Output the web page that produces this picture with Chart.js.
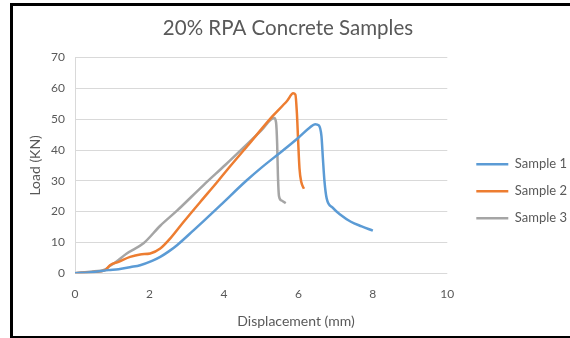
<!DOCTYPE html>
<html>
<head>
<meta charset="utf-8">
<script src="https://cdn.jsdelivr.net/npm/chart.js@4/dist/chart.umd.min.js"></script>
<style>
  body { margin: 0; background: #fff; }
  #wrap { position: relative; width: 570px; height: 338px; overflow: hidden; }
  #frame { position: absolute; left: 10px; top: 3px; width: 600px; height: 330px; border: 3px solid #000; pointer-events: none; }
</style>
</head>
<body>
<div id="wrap">
  <canvas id="myChart" width="570" height="338"></canvas>
  <div id="frame"></div>
</div>
<script>
// Displacement (mm) / Load (KN)
var sample1X = [0, 0.5, 0.9, 1.17, 1.5, 1.75, 2.07, 2.29, 2.51, 2.74, 3.19, 3.46, 3.91, 4.6, 5.0, 5.6, 6.0, 6.3, 6.45, 6.55, 6.62, 6.66, 6.7, 6.76, 6.92, 7.14, 7.41, 7.7, 8.0];
var sample1Y = [0, 0.4, 1.0, 1.3, 2.0, 2.6, 4.0, 5.3, 7.0, 9.1, 14.0, 17.0, 22.1, 30.0, 34.2, 40.0, 44.0, 47.2, 48.4, 48.0, 44.5, 37, 30, 24.3, 21.3, 18.9, 16.7, 15.2, 13.8];

var sample2X = [0, 0.5, 0.81, 0.94, 1.17, 1.48, 1.75, 2.02, 2.29, 2.56, 2.92, 3.37, 3.82, 4.09, 4.63, 5.3, 5.7, 5.86, 5.92, 5.96, 5.99, 6.03, 6.08, 6.15];
var sample2Y = [0, 0.4, 1.0, 2.6, 3.7, 5.3, 6.1, 6.4, 8.0, 11.3, 16.7, 23.2, 29.6, 33.6, 41.3, 50.9, 56.0, 58.4, 58.0, 52, 44, 34, 29.5, 27.4];

var sample3X = [0, 0.4, 0.81, 0.94, 1.08, 1.39, 1.84, 2.29, 2.74, 3.46, 4.05, 4.63, 5.0, 5.35, 5.4, 5.43, 5.45, 5.48, 5.55, 5.66];
var sample3Y = [0, 0.5, 1.2, 2.4, 3.5, 6.4, 9.7, 15.4, 20.3, 28.7, 35.3, 42.0, 46.3, 50.4, 49, 42, 32, 25, 23.6, 22.7];

var seriesNames = ['Sample 1', 'Sample 2', 'Sample 3'];
var seriesColors = ['#5b9bd5', '#ed7d31', '#a5a5a5'];

function toPoints(xs, ys) {
    return xs.map(function (x, i) { return { x: x, y: ys[i] }; });
}

var allX = [sample1X, sample2X, sample3X];
var allY = [sample1Y, sample2Y, sample3Y];

var datasets = seriesNames.map(function (name, i) {
    return {
        label: name,
        data: toPoints(allX[i], allY[i]),
        borderColor: seriesColors[i],
        backgroundColor: seriesColors[i],
        borderWidth: 2.5,
        showLine: true,
        pointRadius: 0,
        pointStyle: 'line',
        cubicInterpolationMode: 'monotone'
    };
});

var textColor = '#595959';
var fontFamily = 'Lato, "Noto Sans", sans-serif';
var xTitle = 'Displacement (mm)';

// push the legend away from the plot and the x title a little right, like the original
var nudge = {
    id: 'nudge',
    afterLayout: function (chart) {
        chart.legend.left += 15;
        chart.legend.right += 15;
        chart.boxes.forEach(function (b) {
            if (b.options && b.options.text === xTitle) {
                b.left += 8;
                b.right += 8;
            }
        });
    }
};

var ctx = document.getElementById('myChart').getContext('2d');

var myChart = new Chart(ctx, {
    type: 'scatter',
    data: { datasets: datasets },
    plugins: [nudge],
    options: {
        responsive: false,
        animation: false,
        devicePixelRatio: 1,
        layout: { padding: { left: 14, top: 12, right: 8, bottom: 8 } },
        plugins: {
            title: {
                display: true,
                text: '20% RPA Concrete Samples',
                color: textColor,
                font: { family: fontFamily, size: 20.5, weight: 'normal' },
                padding: { top: 4, bottom: 17 }
            },
            // x axis title: Excel centres it on the whole chart, so use the bottom subtitle
            subtitle: {
                display: true,
                position: 'bottom',
                text: xTitle,
                color: textColor,
                font: { family: fontFamily, size: 14 },
                padding: { top: 4, bottom: 0 }
            },
            legend: {
                position: 'right',
                title: { display: true, text: ' ', font: { size: 12 }, padding: { top: 13, bottom: 13 } },
                labels: {
                    usePointStyle: true,
                    pointStyleWidth: 32,
                    padding: 14,
                    color: textColor,
                    font: { family: fontFamily, size: 13 }
                }
            },
            tooltip: { enabled: false }
        },
        scales: {
            x: {
                min: 0,
                max: 10,
                ticks: { stepSize: 2, color: textColor, font: { family: fontFamily, size: 12 }, padding: 6 },
                grid: { display: false },
                border: { display: false },
                afterFit: function (s) { s.height = 36; }
            },
            y: {
                min: 0,
                max: 70,
                ticks: { stepSize: 10, color: textColor, font: { family: fontFamily, size: 12 }, padding: 10 },
                grid: { color: '#d9d9d9', lineWidth: 1, drawTicks: false },
                border: { display: true, color: '#d9d9d9' },
                title: {
                    display: true,
                    text: 'Load (KN)',
                    color: textColor,
                    font: { family: fontFamily, size: 14 },
                    padding: { top: 13, bottom: 0 }
                },
                afterFit: function (s) { s.width = 61; }
            }
        }
    }
});
</script>
</body>
</html>
